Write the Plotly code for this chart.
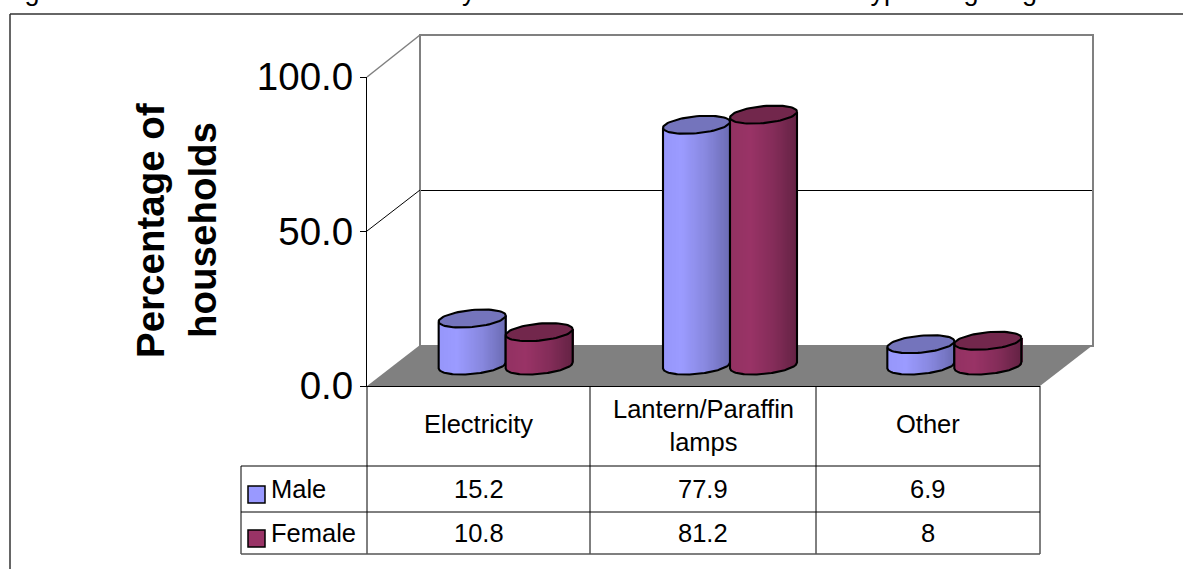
import numpy as np
import plotly.graph_objects as go

categories = ["Electricity", "Lantern/Paraffin<br>lamps", "Other"]
male = [15.2, 77.9, 6.9]
female = [10.8, 81.2, 8]
series_names = ["Male", "Female"]
y_title_lines = ["Percentage of", "households"]
y_ticks = [0, 50, 100]

W, H = 1183, 569
FONT = "Liberation Sans, Arial, sans-serif"
def fx(p): return p / W
def fy(p): return 1 - p / H

fig = go.Figure()

# plane geometry in page pixels
FRONT_L, FRONT_R, FRONT_0, FRONT_100 = 367, 1040, 386, 77
BACK_L, BACK_R, BACK_0, BACK_100 = 420, 1093, 345, 35
MID_L, MID_R, MID_0 = 393.5, 1066.5, 365.5
PX_PER_UNIT = 3.09
V_LOW, V_HIGH = -10, 105

HALF_W = 33.5 / ((MID_R - MID_L) / 3)   # cylinder half width in category units
B = 8.5 / PX_PER_UNIT                    # half depth of an end cap in value units
SK = 3 / PX_PER_UNIT                     # tilt of an end cap in value units
U = np.linspace(-1, 1, 61)
T = np.linspace(0, 2 * np.pi, 73)


def mix(stops, u):
    pos = [s[0] for s in stops]
    cols = [np.interp(u, pos, [s[1][i] for s in stops]) for i in range(3)]
    return "rgb(%d,%d,%d)" % tuple(int(round(c)) for c in cols)


male_stops = [(-1, (150, 150, 250)), (-0.45, (155, 155, 255)), (0.3, (135, 135, 222)), (1, (108, 108, 180))]
female_stops = [(-1, (146, 50, 98)), (-0.4, (153, 51, 102)), (0.35, (130, 44, 88)), (1, (100, 34, 68))]
colors = {"Male": (male_stops, "#7474BC"), "Female": (female_stops, "#72274C")}


def cylinder(values, offset, name, xa, ya):
    stops, cap = colors[name]
    for i, v in enumerate(values):
        c = i + offset * HALF_W
        xs = c + HALF_W * U
        bottoms = SK * U - B * np.sqrt(1 - U ** 2)
        tops = v + SK * U
        fig.add_trace(go.Bar(
            x=xs, y=tops - bottoms, base=bottoms,
            width=(U[1] - U[0]) * HALF_W * 1.25,
            marker=dict(color=[mix(stops, u) for u in U], line=dict(width=0)),
            xaxis=xa, yaxis=ya, hoverinfo="skip", showlegend=False,
        ))
        # outline of the sides and the lower rim
        ox = np.r_[c - HALF_W, xs, c + HALF_W]
        oy = np.r_[v - SK, bottoms, v + SK]
        fig.add_trace(go.Scatter(
            x=ox, y=oy, mode="lines", line=dict(color="black", width=2.1),
            xaxis=xa, yaxis=ya, hoverinfo="skip", showlegend=False,
        ))
        # top cap
        fig.add_trace(go.Scatter(
            x=c + HALF_W * np.cos(T), y=v + SK * np.cos(T) + B * np.sin(T),
            mode="lines", fill="toself", fillcolor=cap,
            line=dict(color="black", width=2.1),
            xaxis=xa, yaxis=ya, hoverinfo="skip", showlegend=False,
        ))


# front axis subplot (x, y): anchors the value scale
fig.add_trace(go.Scatter(x=[0], y=[0], mode="none", xaxis="x", yaxis="y",
                         hoverinfo="skip", showlegend=False))
# back wall subplot (x2, y2)
fig.add_trace(go.Scatter(x=[0], y=[0], mode="none", xaxis="x2", yaxis="y2",
                         hoverinfo="skip", showlegend=False))
cylinder(male, -1, "Male", "x3", "y3")
cylinder(female, 1, "Female", "x4", "y4")

hidden = dict(visible=False, fixedrange=True)
mid_x = dict(hidden, domain=[fx(MID_L), fx(MID_R)], range=[-0.5, 2.5])
mid_y = dict(hidden, domain=[fy(MID_0 - V_LOW * PX_PER_UNIT), fy(MID_0 - V_HIGH * PX_PER_UNIT)],
             range=[V_LOW, V_HIGH])

annotations = []
def text(x, y, s, size=25.5, anchor="center", **kw):
    annotations.append(dict(xref="paper", yref="paper", x=fx(x), y=fy(y), text=s, showarrow=False,
                            xanchor=anchor, yanchor="middle", align="center",
                            font=dict(family=FONT, size=size, color="black"), **kw))

# axis title
text(150, 231, f"<b>{y_title_lines[0]}</b>", size=38.5, textangle=-90)
text(203, 230, f"<b>{y_title_lines[1]}</b>", size=38.5, textangle=-90)

# data table
COL = [FRONT_L, 590, 816, FRONT_R]
ROW = [386, 466, 512, 554]
for i, cat in enumerate(categories):
    cx = (COL[i] + COL[i + 1]) / 2
    text(cx, 425 if "<br>" in cat else 423.5, cat)
    text(cx, 489, f"{male[i]:g}")
    text(cx, 533, f"{female[i]:g}")
text(269, 489, series_names[0], anchor="left")
text(269, 533, series_names[1], anchor="left")

# title line, cut off by the page top
text(0, -9, "Figure", size=27, anchor="left")
text(445, -9, "by", size=27, anchor="left")
text(861, -9, "type of lighting", size=27, anchor="left")

shapes = []
def line(x0, y0, x1, y1, color="black", width=1):
    shapes.append(dict(type="line", xref="paper", yref="paper", x0=fx(x0), y0=fy(y0), x1=fx(x1), y1=fy(y1),
                       line=dict(color=color, width=width), layer="above"))

# floor
shapes.append(dict(type="path", xref="paper", yref="paper", layer="below", fillcolor="#808080",
                   line=dict(width=0),
                   path=f"M{fx(FRONT_L)},{fy(FRONT_0)} L{fx(BACK_L)},{fy(BACK_0)} "
                        f"L{fx(BACK_R)},{fy(BACK_0)} L{fx(FRONT_R)},{fy(FRONT_0)} Z"))
# frame round the chart
line(10, 14, W, 14, "#333333", 1.5)
line(10, 14, 10, H, "#333333", 1.5)
# side-wall edges
line(FRONT_L, FRONT_100, BACK_L, BACK_100, "#808080", 1.5)
line(FRONT_L, 231, BACK_L, 190, "black", 1)
# table rules
for c in COL:
    line(c, ROW[0], c, ROW[3])
line(241, ROW[1], 241, ROW[3])
line(241, ROW[1], FRONT_R, ROW[1])
line(241, ROW[2], FRONT_R, ROW[2])
line(241, ROW[3], FRONT_R, ROW[3], "#555555", 1.5)
# legend keys
for y0, col in ((486, "#9999FF"), (530, "#993366")):
    shapes.append(dict(type="rect", xref="paper", yref="paper", x0=fx(248), x1=fx(265), y0=fy(y0), y1=fy(y0 + 17),
                       fillcolor=col, line=dict(color="black", width=1.5), layer="above"))

fig.update_layout(
    width=W, height=H, margin=dict(l=0, r=0, t=0, b=0, autoexpand=False), autosize=False,
    paper_bgcolor="white", plot_bgcolor="rgba(0,0,0,0)",
    barmode="overlay", bargap=0, showlegend=False, hovermode=False,
    annotations=annotations, shapes=shapes,
    xaxis=dict(domain=[fx(FRONT_L), fx(FRONT_R)], range=[0, 3], showline=True, linecolor="black", linewidth=1,
               showgrid=False, zeroline=False, showticklabels=False, ticks="", fixedrange=True, anchor="y"),
    yaxis=dict(domain=[fy(FRONT_0), fy(FRONT_100)], range=[0, 100], tickvals=y_ticks, tickformat=".1f",
               showline=True, linecolor="black", linewidth=1.2, ticks="outside", ticklen=6, tickcolor="black",
               tickwidth=1, showgrid=False, zeroline=False, ticklabelstandoff=-1,
               tickfont=dict(family=FONT, size=38.5, color="black"), fixedrange=True, anchor="x"),
    xaxis2=dict(domain=[fx(BACK_L + 1), fx(BACK_R - 1)], range=[0, 1], showline=True, mirror=True, linecolor="#808080",
                linewidth=2, showgrid=False, zeroline=False, showticklabels=False, ticks="", fixedrange=True,
                anchor="y2"),
    yaxis2=dict(domain=[fy(BACK_0), fy(BACK_100 + 1)], range=[0, 100], tickvals=[50], showgrid=True, gridcolor="black",
                gridwidth=1, showline=True, mirror=True, linecolor="#808080", linewidth=2, zeroline=False,
                showticklabels=False, ticks="", fixedrange=True, anchor="x2"),
    xaxis3=dict(mid_x, anchor="y3"), yaxis3=dict(mid_y, anchor="x3"),
    xaxis4=dict(mid_x, anchor="y4"), yaxis4=dict(mid_y, anchor="x4"),
)

fig.write_html("out.html", config={"displayModeBar": False},
               post_script="document.body.style.margin='0';document.body.style.overflow='hidden';")
